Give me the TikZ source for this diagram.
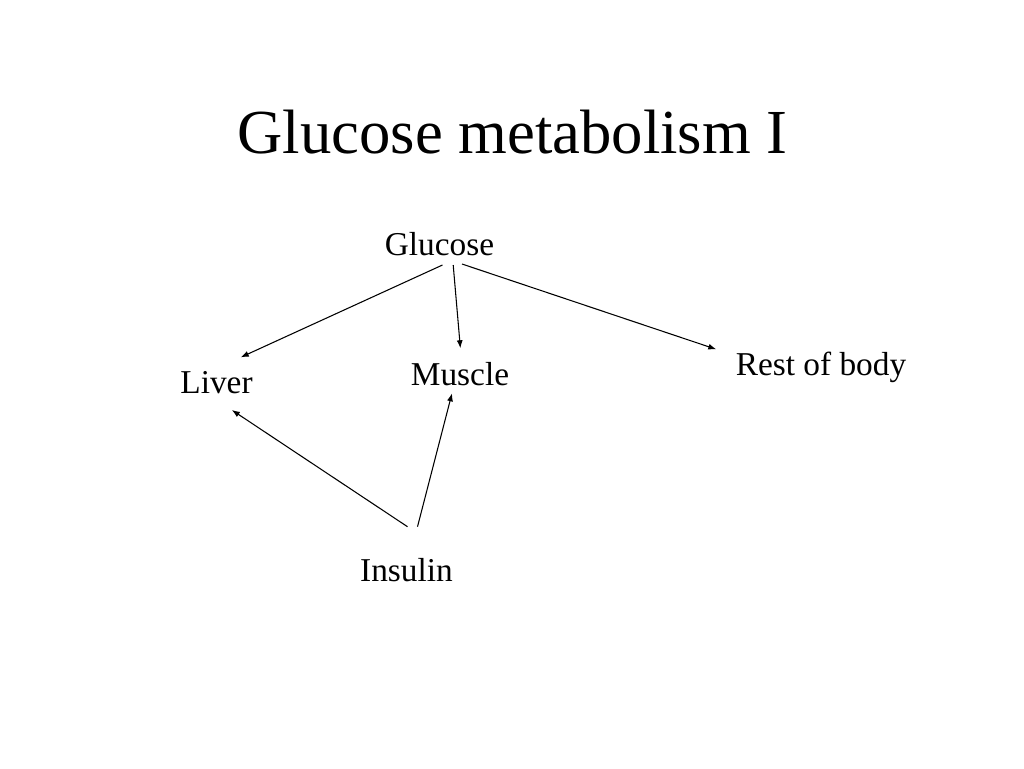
\documentclass[tikz,border=0pt]{standalone}
\usepackage{fontspec}
\setmainfont{Liberation Serif}
\usetikzlibrary{arrows.meta}

\begin{document}
\begin{tikzpicture}[x=0.75pt,y=-0.75pt,
	lbl/.style={inner sep=0pt,anchor=base,font=\fontsize{25}{30}\selectfont},
	arr/.style={line width=0.8pt,-{Latex[length=6pt,width=4.5pt]}}]
\fill[white] (0,0) rectangle (1024,768);
\useasboundingbox (0,0) rectangle (1024,768);
\path (512.5,153) node[lbl,font=\fontsize{47}{56}\selectfont] (title) {Glucose metabolism I}
		(439.5,255) node[lbl] (glucose) {Glucose}
		(216.5,393) node[lbl] (liver) {Liver}
		(460,385) node[lbl] (muscle) {Muscle}
		(821,375) node[lbl] (rest) {Rest of body}
		(406.5,581) node[lbl] (insulin) {Insulin}
		;
\draw[arr] ([shift={(3,10)}]glucose.base) -- ([shift={(24.2,-35.7)}]liver.base);
\draw[arr] ([shift={(13.7,10)}]glucose.base) -- ([shift={(0.4,-36.7)}]muscle.base);
\draw[arr] ([shift={(22.5,9)}]glucose.base) -- ([shift={(-19.3,-25.7)}]rest.base west);

\draw[arr] ([shift={(1,-54.3)}]insulin.base) -- ([shift={(15.3,17)}]liver.base);
\draw[arr] ([shift={(11,-54.3)}]insulin.base) -- ([shift={(-8,8.3)}]muscle.base);
\end{tikzpicture}
\end{document}
